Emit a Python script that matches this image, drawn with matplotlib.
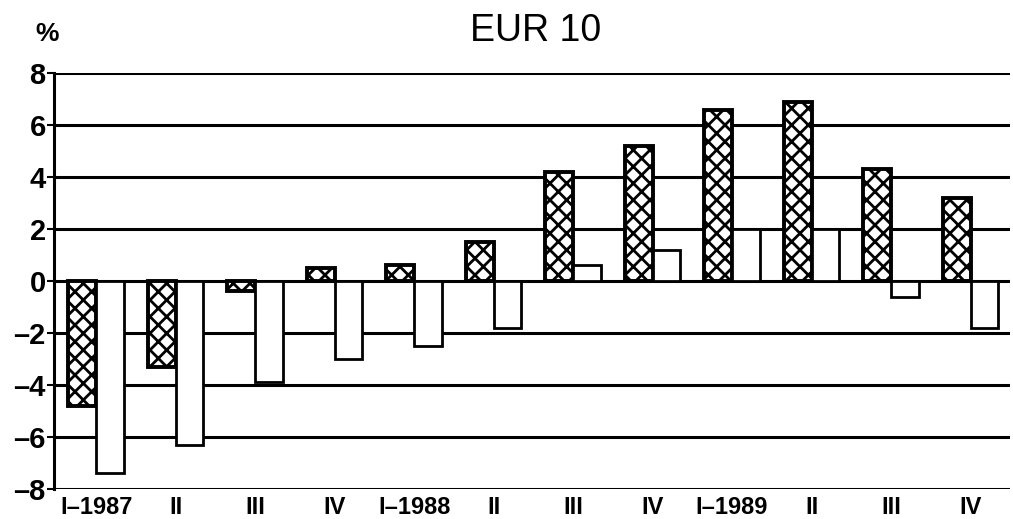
import numpy as np
import matplotlib
matplotlib.use('Agg')
import matplotlib.pyplot as plt

# data
quarters = ['I\u20131987', 'II', 'III', 'IV', 'I\u20131988', 'II', 'III', 'IV',
            'I\u20131989', 'II', 'III', 'IV']
hatched = [-4.8, -3.3, -0.4, 0.5, 0.6, 1.5, 4.2, 5.2, 6.6, 6.9, 4.3, 3.2]
plain = [-7.4, -6.3, -3.9, -3.0, -2.5, -1.8, 0.6, 1.2, 2.0, 2.0, -0.6, -1.8]
yticks = [-8, -6, -4, -2, 0, 2, 4, 6, 8]

plt.rcParams['hatch.linewidth'] = 2.0
plt.rcParams['font.family'] = ['Liberation Sans', 'DejaVu Sans']

fig = plt.figure(figsize=(10.13, 5.19), dpi=100)
ax = fig.add_axes([0.0533, 0.058, 0.944, 0.801])

x = np.arange(len(quarters))
w = 0.35
ax.bar(x - w / 2, hatched, w, color='white', edgecolor='black',
       linewidth=2.8, hatch='xx', zorder=3)
ax.bar(x + w / 2, plain, w, color='white', edgecolor='black',
       linewidth=2.0, zorder=3)

# horizontal grid
for y in yticks:
    ax.axhline(y, color='black', linewidth=2.2, zorder=1)

ax.set_ylim(-8, 8)
ax.set_xlim(-0.53, 11.5)
ax.set_yticks(yticks)
ax.set_yticklabels([str(v).replace('-', '\u2013') for v in yticks],
                   fontsize=21, fontweight='bold')
ax.set_xticks(x)
ax.set_xticklabels(quarters, fontsize=17, fontweight='bold')
ax.tick_params(axis='x', length=0, pad=5)
ax.tick_params(axis='y', length=5, width=1.5, pad=1)

for s in ['top', 'right', 'bottom']:
    ax.spines[s].set_visible(False)
ax.spines['left'].set_linewidth(2.2)

fig.text(0.529, 0.94, 'EUR 10', fontsize=27, ha='center', va='center')
fig.text(0.047, 0.935, '%', fontsize=19, fontweight='bold', ha='center', va='center')

fig.savefig('out.png', dpi=100)
